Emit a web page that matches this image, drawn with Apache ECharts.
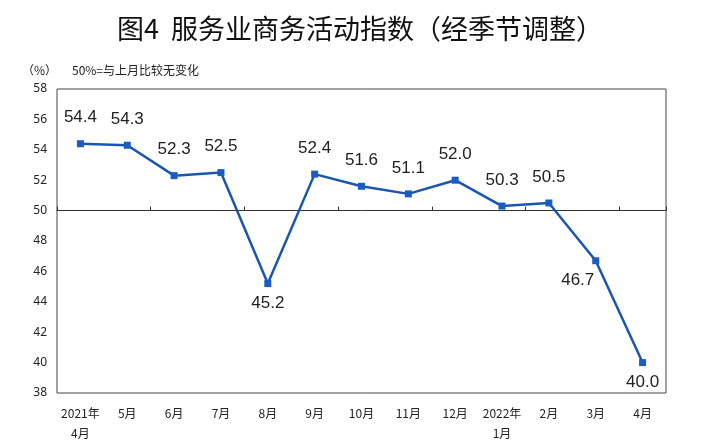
<!DOCTYPE html>
<html><head><meta charset="utf-8">
<script src="https://cdn.jsdelivr.net/npm/echarts@6/dist/echarts.min.js"></script>
<style>html,body{margin:0;padding:0;background:#fff}#c{width:720px;height:447px}</style>
</head><body><div id="c"></div>
<script>
const categories = ['2021年\n4月','5月','6月','7月','8月','9月','10月','11月','12月','2022年\n1月','2月','3月','4月'];
const values = [54.4,54.3,52.3,52.5,45.2,52.4,51.6,51.1,52.0,50.3,50.5,46.7,40.0];
const yTicks = [38,40,42,44,46,48,50,52,54,56,58];
const belowIdx = [4,12];
const belowLeftIdx = [11];

const chart = echarts.init(document.getElementById('c'));
const gridTop = 89, gridBottom = 54, gridH = 447 - gridTop - gridBottom;
const yMin = yTicks[0], yMax = yTicks[yTicks.length-1];
const midOffset = -gridH * (50 - yMin) / (yMax - yMin);

chart.setOption({
  animation: false,
  backgroundColor: '#fff',
  title: {
    text: '图4  服务业商务活动指数（经季节调整）',
    left: 'center', top: 10,
    textStyle: {fontSize: 27, fontWeight: 'normal', color: '#111', fontFamily: 'Noto Sans CJK SC'}
  },
  graphic: [
    {type: 'text', left: 22, top: 64, style: {text: '（%）', fontSize: 12, fill: '#222', fontFamily: 'Noto Sans CJK SC'}},
    {type: 'text', left: 72, top: 64, style: {text: '50%=与上月比较无变化', fontSize: 12, fill: '#222', fontFamily: 'Noto Sans CJK SC'}}
  ],
  grid: {left: 57, right: 54, top: gridTop, bottom: gridBottom, show: true, borderColor: '#444', borderWidth: 1},
  xAxis: [{
    type: 'category', data: categories, boundaryGap: true, position: 'bottom',
    axisLine: {show: false}, axisTick: {show: false},
    axisLabel: {color: '#222', fontSize: 12, margin: 10, lineHeight: 20, fontFamily: 'Noto Sans CJK SC', interval: 0}
  }, {
    type: 'category', data: categories, boundaryGap: true, position: 'bottom', offset: midOffset,
    axisLine: {show: true, lineStyle: {color: '#333', width: 1}},
    axisTick: {show: true, inside: true, length: 4, lineStyle: {color: '#333'}},
    axisLabel: {show: false}
  }],
  yAxis: {
    type: 'value', min: yMin, max: yMax, interval: 2,
    axisLine: {show: false}, axisTick: {show: false}, splitLine: {show: false},
    axisLabel: {color: '#222', fontSize: 12, margin: 10, fontFamily: 'Noto Sans'}
  },
  series: [{
    type: 'line', xAxisIndex: 0, data: values.map((v, i) => {
      const d = {value: v};
      if (belowIdx.includes(i)) d.label = {position: 'bottom', distance: 8};
      if (belowLeftIdx.includes(i)) d.label = {position: 'bottom', distance: 8, offset: [-18, 0]};
      return d;
    }),
    symbol: 'rect', symbolSize: 7,
    lineStyle: {color: '#1a55b0', width: 2.5},
    itemStyle: {color: '#1a5cc4'},
    label: {show: true, position: 'top', distance: 14, fontSize: 17, color: '#222', fontFamily: 'Liberation Sans',
      formatter: p => p.value.toFixed(1)}
  }]
});
</script></body></html>
